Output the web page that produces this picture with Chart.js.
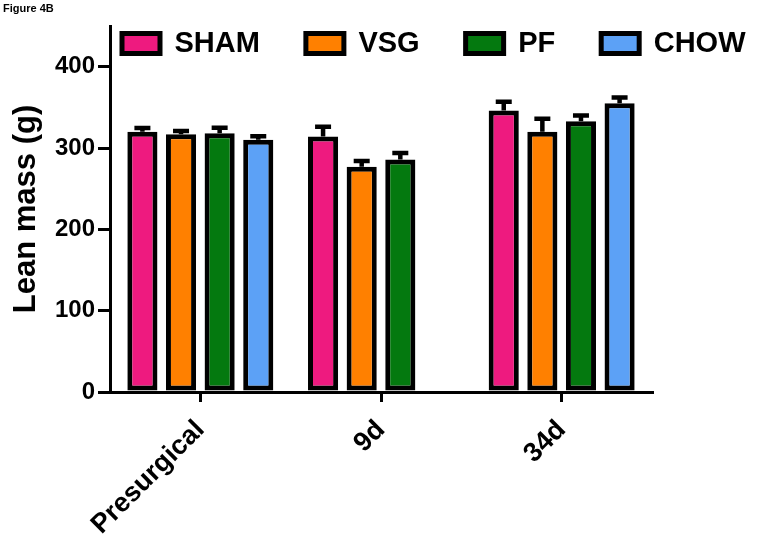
<!DOCTYPE html>
<html>
<head>
<meta charset="utf-8">
<script src="https://cdn.jsdelivr.net/npm/chart.js@4.4.1/dist/chart.umd.min.js"></script>
<style>
  body { margin: 0; background: #fff; }
  #wrap { position: relative; width: 761px; height: 542px; }
  #fig { position: absolute; left: 3px; top: 2px; font: bold 11px Arial, "Liberation Sans", sans-serif; color: #000; }
</style>
</head>
<body>
<div id="wrap">
  <canvas id="leanChart"></canvas>
  <div id="fig">Figure 4B</div>
</div>
<script>
// data (bar value, SEM)
const timepoints = ['Presurgical', '9d', '34d'];
const groups = ['SHAM', 'VSG', 'PF', 'CHOW'];
const shamMass = [320, 314, 346];
const vsgMass = [317, 277, 320];
const pfMass = [318, 286, 333];
const chowMass = [310, null, 355];
const shamErr = [4.5, 12, 11];
const vsgErr = [4, 7, 16];
const pfErr = [7, 8, 7];
const chowErr = [4.5, null, 7];
const yTicks = [0, 100, 200, 300, 400];

const colors = ['#EE1A7F', '#FF8000', '#04790F', '#5CA1F6'];
const FONT = 'Arial, "Liberation Sans", Helvetica, sans-serif';

// error bars (upper only, like the prism plot)
const errorBars = {
    id: 'errorBars',
    afterDatasetsDraw(chart) {
        const ctx = chart.ctx;
        const y = chart.scales.y;
        ctx.save();
        ctx.strokeStyle = '#000';
        ctx.lineWidth = 4.5;
        chart.data.datasets.forEach((ds, i) => {
            const meta = chart.getDatasetMeta(i);
            meta.data.forEach((bar, j) => {
                const v = ds.data[j];
                const e = ds.errors[j];
                if (v == null || e == null) return;
                const yTop = y.getPixelForValue(v + e);
                const yBase = y.getPixelForValue(v);
                ctx.beginPath();
                ctx.moveTo(bar.x, yBase);
                ctx.lineTo(bar.x, yTop);
                ctx.moveTo(bar.x - 8, yTop);
                ctx.lineTo(bar.x + 8, yTop);
                ctx.stroke();
            });
        });
        ctx.restore();
    }
};

// legend sits inside the plot at the top, so it takes no layout space
const legendOverlay = {
    id: 'legendOverlay',
    afterInit(chart) {
        const lg = chart.legend;
        if (!lg || lg._overlay) return;
        const fit = lg.fit.bind(lg);
        lg.fit = function () {
            this.maxWidth = 1000; // keep all four on one row
            fit();
            this.fullH = this.height;
            this.height = 0;
        };
        lg._overlay = true;
    },
    afterLayout(chart) {
        const lg = chart.legend;
        if (!lg) return;
        lg.left = 76;
        lg.right = 1000;
        lg.width = lg.right - lg.left;
        lg.top = -17;
        lg.height = lg.fullH;
        lg.bottom = lg.top + lg.fullH;
    }
};

function makeSet(label, data, errors, color) {
    return {
        label, data, errors,
        backgroundColor: color,
        borderColor: '#000',
        borderWidth: 5,
        borderSkipped: false,
        barPercentage: 0.78,
        categoryPercentage: 0.855
    };
}

const ctx = document.getElementById('leanChart').getContext('2d');
new Chart(ctx, {
    type: 'bar',
    data: {
        labels: timepoints,
        datasets: [
            makeSet(groups[0], shamMass, shamErr, colors[0]),
            makeSet(groups[1], vsgMass, vsgErr, colors[1]),
            makeSet(groups[2], pfMass, pfErr, colors[2]),
            makeSet(groups[3], chowMass, chowErr, colors[3])
        ]
    },
    options: {
        responsive: true,
        maintainAspectRatio: false,
        animation: false,
        layout: { padding: { top: 26, right: 109, bottom: 0, left: 0 } },
        plugins: {
            legend: {
                position: 'top',
                align: 'start',
                labels: {
                    boxWidth: 38,
                    boxHeight: 20,
                    padding: 46,
                    color: '#000',
                    font: { family: FONT, size: 29, weight: 'bold' }
                }
            },
            tooltip: { enabled: false }
        },
        scales: {
            x: {
                grid: { display: true, drawOnChartArea: false, offset: false, tickLength: 10, lineWidth: 3, color: '#000' },
                border: { display: true, color: '#000', width: 3 },
                ticks: {
                    color: '#000',
                    minRotation: 45,
                    maxRotation: 45,
                    padding: 12,
                    font: { family: FONT, size: 27, weight: 'bold' }
                },
                afterFit(scale) { scale.height = 150; }
            },
            y: {
                min: 0,
                max: 450,
                grid: { display: true, drawOnChartArea: false, tickLength: 12, lineWidth: 3, color: '#000' },
                border: { display: true, color: '#000', width: 3 },
                afterBuildTicks(scale) {
                    scale.ticks = yTicks.map(v => ({ value: v }));
                },
                ticks: {
                    color: '#000',
                    padding: 3,
                    font: { family: FONT, size: 24, weight: 'bold' }
                },
                title: {
                    display: true,
                    text: 'Lean mass (g)',
                    color: '#000',
                    padding: { top: 8, bottom: 0 },
                    font: { family: FONT, size: 31, weight: 'bold' }
                },
                afterFit(scale) { scale.width = 110; }
            }
        }
    },
    plugins: [errorBars, legendOverlay]
});
</script>
</body>
</html>
